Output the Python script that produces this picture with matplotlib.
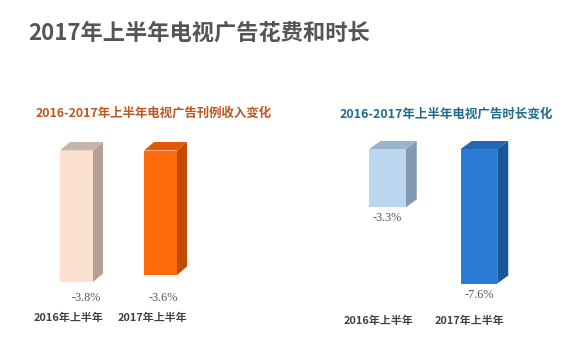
import matplotlib
matplotlib.use("Agg")
import matplotlib.pyplot as plt
from matplotlib.patches import Polygon

plt.rcParams['font.family'] = ['Noto Sans CJK SC', 'DejaVu Sans']

# data
categories = ["2016年上半年", "2017年上半年"]
revenue_change = [-3.8, -3.6]      # 刊例收入变化 (%)
duration_change = [-3.3, -7.6]     # 时长变化 (%)

title = "2017年上半年电视广告花费和时长"
left_title = "2016-2017年上半年电视广告刊例收入变化"
right_title = "2016-2017年上半年电视广告时长变化"

left_colors = [("#FCE0D0", "#B4A196", "#C8B5AA"), ("#FF6A0A", "#C24A05", "#E05808")]
right_colors = [("#BDD6EF", "#8399B3", "#9CB3CC"), ("#2B7CD6", "#1B5697", "#2366B1")]

W, H = 588, 337
fig = plt.figure(figsize=(W / 100, H / 100), dpi=100)
fig.patch.set_facecolor("white")


def draw_3d_bars(ax, values, colors, width, dx, dy):
    xs = list(range(len(values)))
    bars = ax.bar(xs, values, width=width, bottom=0, color=[c[0] for c in colors],
                  linewidth=0, zorder=3)
    for b, c in zip(bars, colors):
        x0 = b.get_x()
        x1 = x0 + b.get_width()
        y0 = b.get_y() + b.get_height()
        y1 = b.get_y()
        top_y = max(y0, y1)
        bot_y = min(y0, y1)
        side = Polygon([(x1, bot_y), (x1 + dx, bot_y + dy), (x1 + dx, top_y + dy), (x1, top_y)],
                       closed=True, facecolor=c[1], edgecolor="none", zorder=2)
        top = Polygon([(x0, top_y), (x0 + dx, top_y + dy), (x1 + dx, top_y + dy), (x1, top_y)],
                      closed=True, facecolor=c[2], edgecolor="none", zorder=2)
        ax.add_patch(side)
        ax.add_patch(top)
    return bars


def setup(ax):
    ax.set_xlim(-0.5, 1.5)
    ax.axis("off")


# left panel: 34.6 px per %, zero at y=150.5 px
ax1 = fig.add_axes([34.5 / W, (H - 323.5) / H, 168 / W, 207.6 / H])
ax1.set_ylim(-5, 1)
setup(ax1)
draw_3d_bars(ax1, revenue_change, left_colors, 33 / 84, 10 / 84, 8.5 / 34.6)
for i, v in enumerate(revenue_change):
    ax1.text(i + (0.12 if i == 0 else 0.03), -4.27, f"{v}%", ha="center", va="center",
             fontsize=8.8, color="#555555", family="Liberation Serif")
    ax1.text(i - 0.1, -4.83, categories[i], ha="center", va="center",
             fontsize=7.9, color="#404040", fontweight="bold", clip_on=False)

# right panel: 17.7 px per %, zero at y=149 px
ax2 = fig.add_axes([341.75 / W, (H - 308.3) / H, 183 / W, 177 / H])
ax2.set_ylim(-9, 1)
setup(ax2)
draw_3d_bars(ax2, duration_change, right_colors, 36.5 / 91.5, 11 / 91.5, 8 / 17.7)
for i, v in enumerate(duration_change):
    ax2.annotate(f"{v}%", (i, v), xytext=(0, -11), textcoords="offset pixels",
                 ha="center", va="center", fontsize=8.8, color="#555555",
                 family="Liberation Serif")
    ax2.text(i - 0.1, -9.7, categories[i], ha="center", va="center",
             fontsize=7.9, color="#404040", fontweight="bold", clip_on=False)

fig.text(28 / W, 1 - 33 / H, title, ha="left", va="center", fontsize=16,
         fontweight="bold", color="#555555")
fig.text(154 / W, 1 - 113 / H, left_title, ha="center", va="center", fontsize=8.95,
         fontweight="bold", color="#C0561E")
fig.text(446.5 / W, 1 - 114 / H, right_title, ha="center", va="center", fontsize=9.0,
         fontweight="bold", color="#1F6C8C")

fig.savefig("out.png", dpi=100, facecolor="white")
